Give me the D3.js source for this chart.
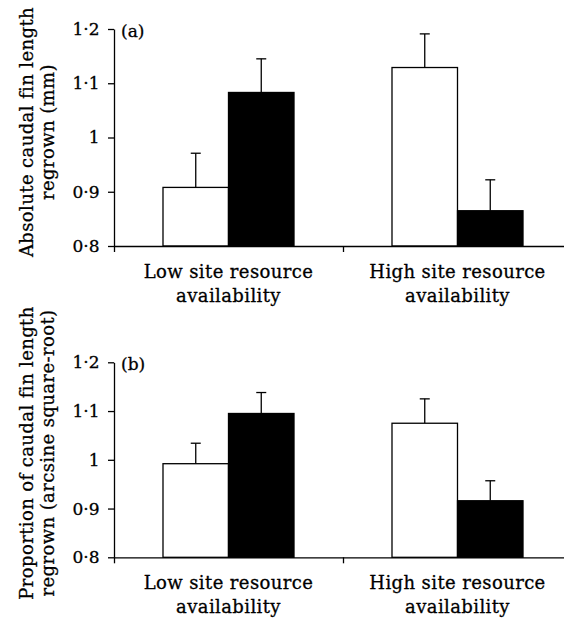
<!DOCTYPE html>
<html>
<head>
<meta charset="utf-8">
<script src="https://cdn.jsdelivr.net/npm/d3@7"></script>
<style>
  html, body { margin: 0; padding: 0; background: #fff; }
  svg { display: block; }
  text { font-family: "DejaVu Serif", serif; fill: #000; stroke: #000; stroke-width: 0.3px; }
</style>
</head>
<body>
<svg id="chart" width="564" height="618"></svg>
<script>
// ---- data ----
const categories = ["Low", "High"];
const categoryLines = [["Low site resource", "availability"], ["High site resource", "availability"]];
const seriesNames = ["open", "filled"];
const yTicks = [0.8, 0.9, 1.0, 1.1, 1.2];

// Panel (a): absolute caudal fin length regrown (mm)
const aOpenMean = [0.908, 1.129];
const aOpenSE = [0.063, 0.062];
const aFilledMean = [1.083, 0.865];
const aFilledSE = [0.062, 0.057];

// Panel (b): proportion regrown (arcsine square-root)
const bOpenMean = [0.992, 1.075];
const bOpenSE = [0.042, 0.050];
const bFilledMean = [1.095, 0.916];
const bFilledSE = [0.043, 0.041];

const panelLabels = ["(a)", "(b)"];
const yLabelsA = ["Absolute caudal fin length", "regrown (mm)"];
const yLabelsB = ["Proportion of caudal fin length", "regrown (arcsine square-root)"];

// ---- drawing ----
const svg = d3.select("#chart");
const fmt = d => d === 1 ? "1" : d.toFixed(1).replace(".", "\u00B7");

function drawPanel(opts) {
  const { top, bottom, left, right, open, openSE, filled, filledSE, label, yLabel, yLabelCenter } = opts;
  const g = svg.append("g");

  const y = d3.scaleLinear().domain([0.8, 1.2]).range([bottom, top]);
  const xGroup = d3.scaleBand().domain(categories).range([left, right]).paddingInner(0).paddingOuter(0);
  const xSeries = d3.scaleBand().domain(seriesNames).range([0, xGroup.bandwidth()]).paddingInner(0).paddingOuter(0.748);
  const xBounds = d3.scaleLinear().domain([0, categories.length]).range([left, right]);

  const rows = [];
  categories.forEach((c, i) => {
    rows.push({ cat: c, s: "open", mean: open[i], se: openSE[i] });
    rows.push({ cat: c, s: "filled", mean: filled[i], se: filledSE[i] });
  });

  // error bars (upward only)
  const eb = g.append("g").attr("stroke", "#000").attr("stroke-width", 1.3);
  rows.forEach(d => {
    const cx = xGroup(d.cat) + xSeries(d.s) + xSeries.bandwidth() / 2;
    eb.append("line").attr("x1", cx).attr("x2", cx).attr("y1", y(d.mean)).attr("y2", y(d.mean + d.se));
    eb.append("line").attr("x1", cx - 5).attr("x2", cx + 5).attr("y1", y(d.mean + d.se)).attr("y2", y(d.mean + d.se));
  });

  // bars
  g.append("g").selectAll("rect").data(rows).join("rect")
    .attr("x", d => xGroup(d.cat) + xSeries(d.s))
    .attr("width", xSeries.bandwidth())
    .attr("y", d => y(d.mean))
    .attr("height", d => y(0.8) - y(d.mean))
    .attr("fill", d => d.s === "open" ? "#fff" : "#000")
    .attr("stroke", "#000")
    .attr("stroke-width", 1.3);

  // y axis
  const ya = g.append("g").attr("transform", `translate(${left},0)`)
    .call(d3.axisLeft(y).tickValues(yTicks).tickFormat(fmt).tickSize(6).tickSizeOuter(0).tickPadding(8.5));
  ya.attr("font-size", null).attr("font-family", null);
  ya.select(".domain").attr("stroke-width", 1.3);
  ya.selectAll(".tick line").attr("stroke-width", 1.3);
  ya.selectAll(".tick text")
    .style("font-family", "'DejaVu Serif', serif").style("font-size", "17px")
    .attr("fill", "#000");

  // x axis (ticks at group boundaries)
  const xa = g.append("g").attr("transform", `translate(0,${bottom})`)
    .call(d3.axisBottom(xBounds).tickValues(d3.range(categories.length + 1)).tickFormat("").tickSize(6).tickSizeOuter(0));
  xa.select(".domain").attr("stroke-width", 1.3);
  xa.selectAll(".tick line").attr("stroke-width", 1.3);

  // category labels
  categories.forEach((c, i) => {
    const cx = xGroup(c) + xGroup.bandwidth() / 2;
    categoryLines[i].forEach((ln, j) => {
      g.append("text").attr("x", cx).attr("y", bottom + 32 + j * 24)
        .attr("text-anchor", "middle").style("font-size", "18px")
        .style("letter-spacing", "0.4px").text(ln);
    });
  });

  // panel letter
  g.append("text").attr("x", left + 7).attr("y", top + 8).style("font-size", "17px").text(label);

  // y label
  yLabel.forEach((ln, j) => {
    const bx = 33 + j * 21;
    g.append("text").attr("transform", `translate(${bx},${yLabelCenter}) rotate(-90)`)
      .attr("text-anchor", "middle").style("font-size", "18px")
      .style("letter-spacing", "0.4px").text(ln);
  });
}

drawPanel({ top: 29, bottom: 246, left: 114, right: 572,
  open: aOpenMean, openSE: aOpenSE, filled: aFilledMean, filledSE: aFilledSE,
  label: panelLabels[0], yLabel: yLabelsA, yLabelCenter: 132 });
drawPanel({ top: 362.3, bottom: 557.3, left: 114, right: 572,
  open: bOpenMean, openSE: bOpenSE, filled: bFilledMean, filledSE: bFilledSE,
  label: panelLabels[1], yLabel: yLabelsB, yLabelCenter: 453 });
</script>
</body>
</html>
